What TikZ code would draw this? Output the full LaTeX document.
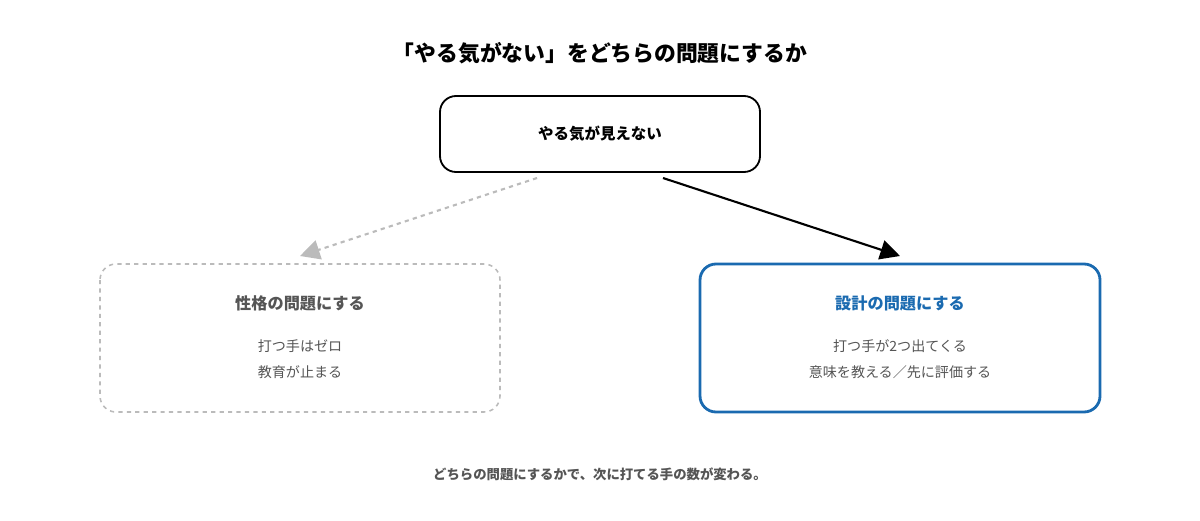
\documentclass[tikz,border=0pt]{standalone}
\usepackage{fontspec}
\setmainfont{Noto Sans CJK JP}
\usetikzlibrary{arrows.meta}
\definecolor{gt}{HTML}{555555}
\definecolor{gl}{HTML}{BBBBBB}
\definecolor{bl}{HTML}{1A6AB0}
\begin{document}
\begin{tikzpicture}[x=0.025cm,y=-0.025cm,
  box/.style={draw,rounded corners=0.4cm,line width=1.3pt},
  sub/.style={font=\fontsize{10}{12}\selectfont,text=gt}]
\useasboundingbox (0,0) rectangle (1200,520);
\node[font=\bfseries\fontsize{15.5}{18}\selectfont] (title) at (600,53) {「やる気がない」をどちらの問題にするか};
\draw[box] (440,96) rectangle (760,172);
\node[font=\bfseries\fontsize{11}{13}\selectfont] (top) at (600,134) {やる気が見えない};
\draw[box,draw=gl,dashed,line width=1.1pt] (100,264) rectangle (500,412);
\node[font=\bfseries\fontsize{11.5}{13}\selectfont,text=gt] (lt) at (300,303) {性格の問題にする};
\node[sub] (l1) at (300,346) {打つ手はゼロ};
\node[sub] (l2) at (300,372) {教育が止まる};
\draw[box,draw=bl,line width=2pt] (700,264) rectangle (1100,412);
\node[font=\bfseries\fontsize{11.5}{13}\selectfont,text=bl] (rt) at (900,303) {設計の問題にする};
\node[sub] (r1) at (900,346) {打つ手が2つ出てくる};
\node[sub] (r2) at (900,372) {意味を教える／先に評価する};
\coordinate (a1) at (537,178); \coordinate (a2) at (300,256);
\coordinate (b1) at (663,178); \coordinate (b2) at (900,256);
\draw[gl,dashed,line width=1.5pt,-{Triangle[length=14pt,width=14pt]}] (a1) -- (a2);
\draw[line width=1.5pt,-{Triangle[length=14pt,width=14pt]}] (b1) -- (b2);
\node[font=\bfseries\fontsize{9.5}{11}\selectfont,text=gt] (foot) at (600,474) {どちらの問題にするかで、次に打てる手の数が変わる。};
\end{tikzpicture}
\end{document}
